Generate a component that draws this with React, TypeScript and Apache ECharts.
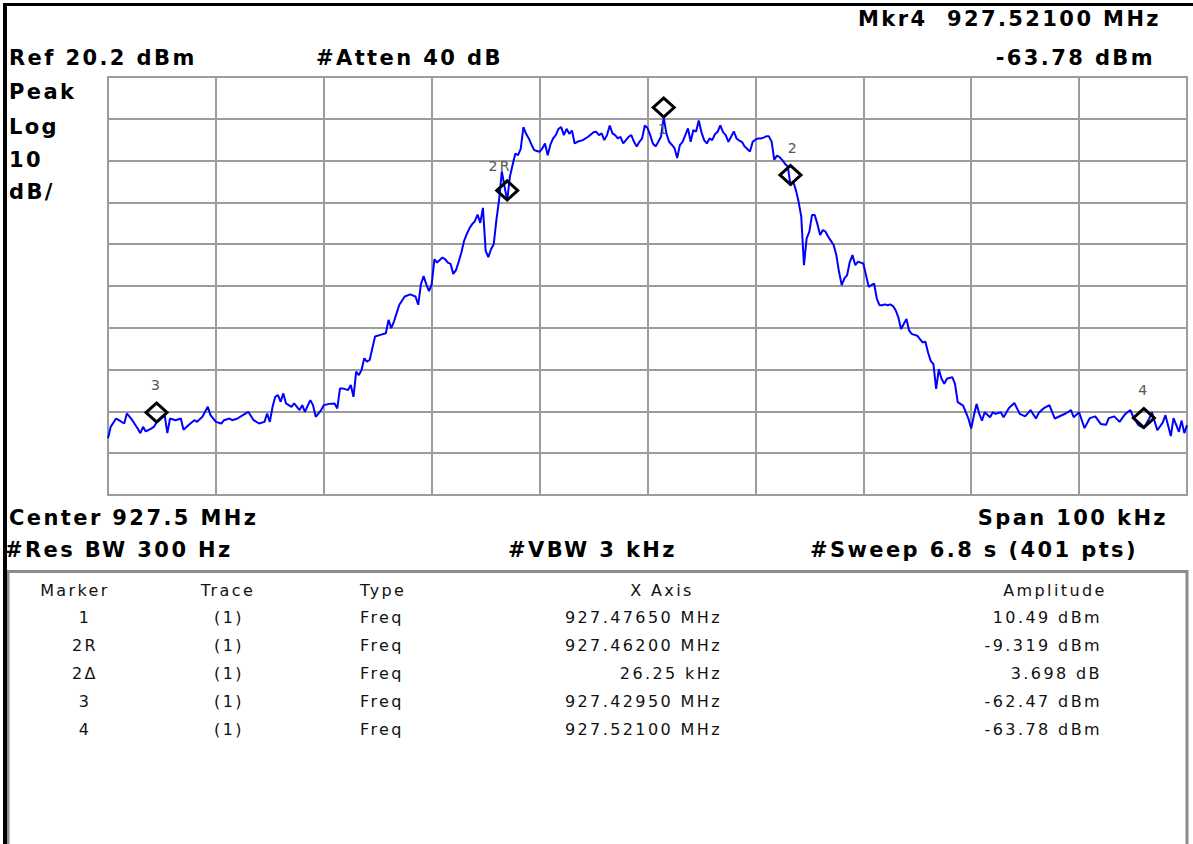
import React, { useEffect, useRef } from "react";
import * as echarts from "echarts";

// ---- instrument settings ----
const REF_LEVEL_DBM = 20.2;
const DB_PER_DIV = 10;
const DIVISIONS = 10;
const START_FREQ_MHZ = 927.425;
const POINT_STEP_MHZ = 0.00025; // 100 kHz span / 400 steps
const LAST_POINT = 400;

// ---- trace: [point index, dBm] ----
const TRACE_SAMPLES: [number, number][] = [
  [0, -66.2], [1, -63.5], [3, -61.5], [4, -61.9], [6, -62.7], [7, -60.3], [9, -61.9], [11, -63.9],
  [12, -65.0], [13, -63.5], [14, -64.6], [16, -63.9], [17, -63.5], [18, -62.47], [19, -61.9], [21, -60.7],
  [22, -65.0], [23, -61.5], [25, -61.9], [27, -61.5], [28, -64.2], [30, -63.0], [32, -61.9], [33, -62.3],
  [35, -61.1], [37, -58.7], [38, -60.7], [40, -62.3], [42, -62.7], [43, -61.9], [45, -61.5], [46, -61.9],
  [48, -61.5], [50, -60.7], [52, -59.9], [54, -61.9], [56, -62.7], [58, -62.3], [59, -60.3], [60, -62.3],
  [61, -58.7], [62, -56.3], [63, -55.9], [64, -57.5], [65, -55.5], [66, -57.9], [68, -58.7], [69, -57.9],
  [71, -59.5], [72, -58.3], [73, -59.9], [75, -57.1], [76, -58.3], [77, -61.1], [79, -59.5], [80, -58.3],
  [82, -58.0], [84, -57.9], [85, -59.1], [86, -54.3], [87, -54.3], [89, -54.7], [90, -53.5], [91, -56.3],
  [92, -50.3], [93, -51.1], [94, -49.9], [95, -47.1], [96, -47.9], [97, -47.5], [98, -44.7], [99, -41.9],
  [101, -41.5], [103, -41.1], [104, -37.9], [105, -39.9], [106, -38.3], [107, -36.3], [108, -34.3], [110, -32.3],
  [112, -31.8], [114, -32.3], [115, -34.3], [116, -29.4], [117, -27.4], [118, -29.4], [119, -31.0], [120, -29.4],
  [121, -23.4], [122, -24.2], [124, -23.0], [125, -23.4], [126, -24.2], [127, -24.5], [128, -26.9], [129, -26.0],
  [130, -24.0], [131, -21.8], [132, -19.0], [133, -17.4], [134, -16.0], [135, -15.0], [136, -14.3], [137, -12.7],
  [138, -14.7], [139, -11.1], [140, -21.4], [141, -22.9], [142, -21.0], [143, -19.8], [144, -13.9], [145, -9.1],
  [146, -2.4], [147, -6.0], [148, -9.319], [149, -3.6], [150, -0.8], [151, 1.9], [152, 1.5], [153, 3.0],
  [154, 8.2], [155, 6.6], [156, 5.5], [157, 4.0], [158, 2.7], [159, 2.5], [160, 2.3], [161, 3.1],
  [162, 4.3], [163, 1.5], [164, 4.0], [165, 5.5], [166, 6.3], [167, 7.8], [168, 8.2], [169, 6.3],
  [170, 7.8], [171, 6.6], [172, 7.4], [173, 4.3], [174, 4.7], [176, 5.1], [178, 5.9], [180, 7.0],
  [181, 7.1], [182, 6.3], [183, 6.7], [184, 5.1], [185, 6.3], [186, 8.6], [187, 6.7], [188, 6.3],
  [189, 5.5], [190, 5.9], [191, 4.3], [193, 5.9], [194, 6.3], [195, 4.7], [196, 3.6], [197, 4.7],
  [198, 5.5], [199, 8.6], [200, 8.0], [201, 6.3], [202, 4.3], [203, 3.6], [204, 4.7], [205, 5.9],
  [206, 10.49], [207, 6.7], [208, 4.7], [209, 4.0], [210, 3.2], [211, 0.8], [212, 3.9], [213, 4.7],
  [214, 6.3], [215, 7.9], [216, 4.7], [217, 7.5], [218, 7.1], [219, 9.8], [220, 7.0], [221, 5.1],
  [222, 4.3], [223, 5.5], [224, 5.1], [225, 6.5], [226, 7.1], [227, 8.6], [228, 7.0], [229, 6.3],
  [230, 4.7], [231, 5.9], [232, 7.2], [233, 5.5], [234, 5.0], [235, 4.7], [236, 3.6], [237, 3.0],
  [238, 2.4], [239, 4.7], [240, 5.2], [241, 5.5], [242, 5.5], [243, 5.7], [244, 6.0], [245, 6.0],
  [246, 4.8], [247, 0.4], [248, 1.4], [249, 1.0], [250, 0.3], [251, -0.6], [252, -1.2], [253, -5.621],
  [254, -4.8], [255, -6.8], [256, -9.6], [257, -13.2], [258, -24.8], [259, -18.4], [260, -16.8], [261, -12.8],
  [262, -12.8], [263, -15.0], [264, -17.6], [265, -16.4], [266, -16.8], [267, -18.0], [268, -19.0], [269, -20.0],
  [270, -22.4], [271, -26.4], [272, -29.6], [273, -28.0], [274, -27.2], [275, -24.0], [276, -22.4], [277, -24.8],
  [278, -24.0], [279, -24.2], [280, -24.4], [281, -27.2], [282, -30.0], [283, -29.6], [284, -29.2], [285, -32.8],
  [286, -34.4], [287, -34.4], [288, -34.2], [289, -34.4], [290, -34.2], [291, -34.6], [292, -35.6], [293, -37.3],
  [294, -40.1], [295, -38.9], [296, -37.7], [297, -40.5], [298, -41.3], [299, -41.5], [300, -41.7], [301, -42.5],
  [302, -43.3], [303, -43.1], [304, -45.7], [305, -47.7], [306, -48.5], [307, -54.4], [308, -49.7], [309, -52.0],
  [310, -53.2], [311, -52.0], [313, -51.6], [314, -53.2], [315, -57.6], [317, -58.4], [318, -60.0], [319, -61.6],
  [320, -63.9], [321, -60.8], [322, -58.0], [323, -60.4], [324, -62.0], [325, -60.0], [327, -61.2], [328, -60.0],
  [329, -60.4], [331, -60.0], [332, -61.2], [334, -59.0], [336, -57.8], [338, -60.4], [340, -61.0], [342, -59.5],
  [344, -61.5], [345, -60.2], [347, -59.0], [349, -58.3], [351, -61.5], [353, -60.9], [355, -60.3], [357, -59.5],
  [358, -61.2], [360, -60.0], [362, -63.8], [364, -61.4], [366, -61.0], [368, -62.8], [370, -63.0], [371, -61.4],
  [373, -61.0], [375, -62.3], [377, -60.5], [379, -59.5], [380, -61.0], [382, -63.1], [384, -63.78], [386, -61.5],
  [387, -60.0], [389, -64.3], [391, -62.5], [392, -60.7], [394, -65.7], [395, -61.4], [396, -63.0], [397, -64.7],
  [398, -62.0], [399, -65.0], [400, -63.1],
];

// ---- markers ----
const MARKER_IDS = ["1", "2R", "2\u0394", "3", "4"];
const MARKER_TRACES = ["(1)", "(1)", "(1)", "(1)", "(1)"];
const MARKER_TYPES = ["Freq", "Freq", "Freq", "Freq", "Freq"];
const MARKER_X_TEXT = ["927.47650 MHz", "927.46200 MHz", "26.25 kHz", "927.42950 MHz", "927.52100 MHz"];
const MARKER_AMP_TEXT = ["10.49 dBm", "-9.319 dBm", "3.698 dB", "-62.47 dBm", "-63.78 dBm"];
// absolute values of the markers on screen (2 is a delta relative to 2R)
const MARKER_FREQ_MHZ = [927.4765, 927.462, 927.462 + 0.02625, 927.4295, 927.521];
const MARKER_AMP_DBM = [10.49, -9.319, -9.319 + 3.698, -62.47, -63.78];
const MARKER_SCREEN_LABELS = ["1", "2R", "2", "3", "4"];

// ---- annotation texts ----
const MKR_READOUT = ["Mkr4  927.52100 MHz", "-63.78 dBm"];
const REF_TEXT = "Ref 20.2 dBm";
const ATTEN_TEXT = "#Atten 40 dB";
const SCALE_TEXTS = ["Peak", "Log", "10", "dB/"];
const CENTER_TEXT = "Center 927.5 MHz";
const SPAN_TEXT = "Span 100 kHz";
const RBW_TEXT = "#Res BW 300 Hz";
const VBW_TEXT = "#VBW 3 kHz";
const SWEEP_TEXT = "#Sweep 6.8 s (401 pts)";
const TABLE_HEADERS = ["Marker", "Trace", "Type", "X Axis", "Amplitude"];

const BOLD = 'bold 21px "DejaVu Sans"';
const TABLE_FONT = '16px "DejaVu Sans"';

function txt(text: string, x: number, y: number, font: string, align = "left", fill = "#000") {
  return {
    type: "text",
    x,
    y,
    silent: true,
    style: {
      text,
      font,
      fill,
      textAlign: align,
      textVerticalAlign: "middle",
      align,
      verticalAlign: "middle",
    },
  };
}

function buildOption() {
  const toIdx = (f: number) => Math.round((f - START_FREQ_MHZ) / POINT_STEP_MHZ);
  const labelCfg: any[] = [
    { position: "bottom", distance: 3, offset: [0, 0] },
    { position: "top", distance: 6, offset: [-7, 0] },
    { position: "top", distance: 9, offset: [3, 0] },
    { position: "top", distance: 10, offset: [0, 0] },
    { position: "top", distance: 10, offset: [0, 0] },
  ];
  const markerData = MARKER_FREQ_MHZ.map((f, i) => ({
    value: [toIdx(f), MARKER_AMP_DBM[i] - REF_LEVEL_DBM],
    label: {
      show: true,
      formatter: MARKER_SCREEN_LABELS[i],
      color: "#555555",
      fontSize: 14,
      fontFamily: "DejaVu Sans",
      ...labelCfg[i],
    },
  }));

  const rowsY = [617, 645, 673, 701, 729];
  const tableEls: any[] = [];
  const hy = 590;
  tableEls.push(txt(TABLE_HEADERS[0], 75, hy, TABLE_FONT, "center", "#111"));
  tableEls.push(txt(TABLE_HEADERS[1], 228, hy, TABLE_FONT, "center", "#111"));
  tableEls.push(txt(TABLE_HEADERS[2], 360, hy, TABLE_FONT, "left", "#111"));
  tableEls.push(txt(TABLE_HEADERS[3], 662, hy, TABLE_FONT, "center", "#111"));
  tableEls.push(txt(TABLE_HEADERS[4], 1055, hy, TABLE_FONT, "center", "#111"));
  MARKER_IDS.forEach((m, i) => {
    const y = rowsY[i];
    tableEls.push(txt(m, 85, y, TABLE_FONT, "center", "#111"));
    tableEls.push(txt(MARKER_TRACES[i], 229, y, TABLE_FONT, "center", "#111"));
    tableEls.push(txt(MARKER_TYPES[i], 360, y, TABLE_FONT, "left", "#111"));
    tableEls.push(txt(MARKER_X_TEXT[i], 722, y, TABLE_FONT, "right", "#111"));
    tableEls.push(txt(MARKER_AMP_TEXT[i], 1102, y, TABLE_FONT, "right", "#111"));
  });

  const gridColor = "#9c9c9c";

  return {
    animation: false,
    backgroundColor: "#ffffff",
    grid: {
      left: 108,
      top: 77,
      width: 1079,
      height: 418,
      show: true,
      borderColor: gridColor,
      borderWidth: 2,
      backgroundColor: "transparent",
    },
    xAxis: {
      type: "value",
      min: 0,
      max: LAST_POINT,
      interval: LAST_POINT / DIVISIONS,
      axisLabel: { show: false },
      axisTick: { show: false },
      axisLine: { show: false },
      splitLine: { show: true, lineStyle: { color: gridColor, width: 2 } },
    },
    yAxis: {
      type: "value",
      min: -DB_PER_DIV * DIVISIONS,
      max: 0,
      interval: DB_PER_DIV,
      axisLabel: { show: false },
      axisTick: { show: false },
      axisLine: { show: false },
      splitLine: { show: true, lineStyle: { color: gridColor, width: 2 } },
    },
    series: [
      {
        type: "line",
        data: TRACE_SAMPLES.map(([i, d]) => [i, d - REF_LEVEL_DBM]),
        showSymbol: false,
        symbol: "none",
        silent: true,
        lineStyle: { color: "#0000ff", width: 2 },
        z: 2,
      },
      {
        type: "scatter",
        data: markerData,
        symbol: "diamond",
        symbolSize: [21, 19],
        symbolOffset: [0, -10],
        silent: true,
        itemStyle: { color: "rgba(255,255,255,0)", borderColor: "#000000", borderWidth: 3, opacity: 1 },
        z: 3,
      },
    ],
    graphic: {
      elements: [
        txt(MKR_READOUT[0], 1161, 19, BOLD, "right"),
        txt(REF_TEXT, 9, 58, BOLD, "left"),
        txt(ATTEN_TEXT, 316, 58, BOLD, "left"),
        txt(MKR_READOUT[1], 1155, 58, BOLD, "right"),
        txt(SCALE_TEXTS[0], 9, 92, BOLD, "left"),
        txt(SCALE_TEXTS[1], 9, 127, BOLD, "left"),
        txt(SCALE_TEXTS[2], 9, 160, BOLD, "left"),
        txt(SCALE_TEXTS[3], 9, 192, BOLD, "left"),
        txt(CENTER_TEXT, 9, 518, BOLD, "left"),
        txt(SPAN_TEXT, 1168, 518, BOLD, "right"),
        txt(RBW_TEXT, 5, 550, BOLD, "left"),
        txt(VBW_TEXT, 508, 550, BOLD, "left"),
        txt(SWEEP_TEXT, 810, 550, BOLD, "left"),
        {
          type: "rect",
          silent: true,
          shape: { x: 8, y: 571.5, width: 1179, height: 290 },
          style: { fill: "none", stroke: "#8c8c8c", lineWidth: 3 },
        },
        ...tableEls,
        {
          type: "rect",
          silent: true,
          shape: { x: 3, y: 3, width: 4, height: 841 },
          style: { fill: "#000" },
        },
        {
          type: "rect",
          silent: true,
          shape: { x: 3, y: 3, width: 1190, height: 3 },
          style: { fill: "#000" },
        },
      ],
    },
  };
}

export default function App() {
  const ref = useRef<HTMLDivElement>(null);
  useEffect(() => {
    document.body.style.margin = "0";
    if (!ref.current) return;
    const chart = echarts.init(ref.current, null, { renderer: "svg" });
    chart.setOption(buildOption() as any);
    return () => chart.dispose();
  }, []);
  return (
    <div>
      <style>{".sa-chart text { letter-spacing: 2.4px; }"}</style>
      <div ref={ref} className="sa-chart" style={{ width: 1193, height: 844, background: "#fff" }} />
    </div>
  );
}
